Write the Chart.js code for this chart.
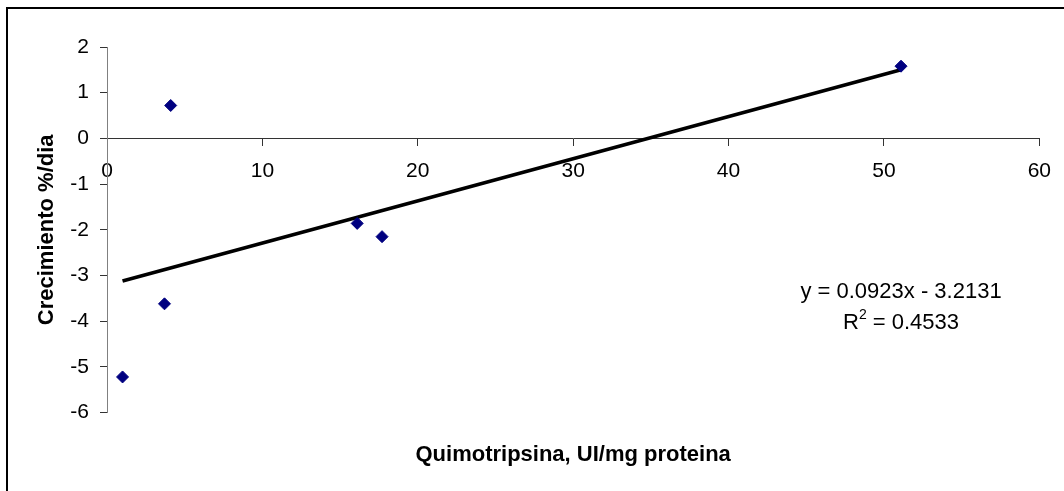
<!DOCTYPE html>
<html>
<head>
<meta charset="utf-8">
<script src="https://cdn.jsdelivr.net/npm/chart.js@4.4.0/dist/chart.umd.min.js"></script>
<style>
  html, body { margin: 0; padding: 0; background: #fff; }
  #wrap { position: relative; width: 1064px; height: 491px; overflow: hidden; }
  #frame { position: absolute; left: 6px; top: 7px; width: 1200px; height: 600px;
           border-left: 2px solid #000; border-top: 2px solid #000; }
  #chart { position: absolute; left: 0; top: 0; }
</style>
</head>
<body>
<div id="wrap">
  <div id="frame"></div>
  <canvas id="chart" width="1064" height="491"></canvas>
</div>
<script>
// data
const quimotripsina = [1.0, 3.7, 4.1, 16.1, 17.7, 51.1];
const crecimiento = [-5.22, -3.62, 0.72, -1.86, -2.15, 1.58];
const xTicks = [0, 10, 20, 30, 40, 50, 60];
const yTicks = [-6, -5, -4, -3, -2, -1, 0, 1, 2];

// trendline as printed on the chart
const slope = 0.0923;
const intercept = -3.2131;
const rSquared = '0.4533';

const FONT = '"Liberation Sans", Arial, sans-serif';

const points = quimotripsina.map((x, i) => ({ x: x, y: crecimiento[i] }));
const xMin = Math.min(...quimotripsina);
const xMax = Math.max(...quimotripsina);
const trend = [
  { x: xMin, y: slope * xMin + intercept },
  { x: xMax, y: slope * xMax + intercept }
];

// draws the equation and R^2 next to the trendline
const equationLabel = {
  id: 'equationLabel',
  afterDatasetsDraw(chart) {
    const { ctx, scales } = chart;
    const cx = scales.x.getPixelForValue(51.1);
    const y1 = scales.y.getPixelForValue(-3.36);
    const y2 = scales.y.getPixelForValue(-4.04);
    ctx.save();
    ctx.fillStyle = '#000';
    ctx.textBaseline = 'middle';
    ctx.font = '22px ' + FONT;
    ctx.textAlign = 'center';
    const sign = intercept < 0 ? ' - ' : ' + ';
    ctx.fillText('y = ' + slope + 'x' + sign + Math.abs(intercept), cx, y1);

    // R² line with a superscript
    ctx.textAlign = 'left';
    const big = '22px ' + FONT, small = '14px ' + FONT;
    ctx.font = big;
    const wR = ctx.measureText('R').width;
    const rest = ' = ' + rSquared;
    const wRest = ctx.measureText(rest).width;
    ctx.font = small;
    const w2 = ctx.measureText('2').width;
    let x = cx - (wR + w2 + wRest) / 2;
    ctx.font = big;
    ctx.fillText('R', x, y2);
    ctx.font = small;
    ctx.fillText('2', x + wR, y2 - 8);
    ctx.font = big;
    ctx.fillText(rest, x + wR + w2, y2);
    ctx.restore();
  }
};

new Chart(document.getElementById('chart'), {
  type: 'scatter',
  data: {
    datasets: [
      {
        label: 'Tendencia',
        type: 'line',
        data: trend,
        borderColor: '#000',
        borderWidth: 3.5,
        pointRadius: 0,
        fill: false,
        order: 2
      },
      {
        label: 'Crecimiento',
        data: points,
        pointStyle: 'rectRot',
        pointRadius: 6,
        pointBorderWidth: 1,
        backgroundColor: '#000080',
        borderColor: '#000080',
        order: 1
      }
    ]
  },
  options: {
    responsive: false,
    animation: false,
    layout: { padding: { left: 10, top: 47, right: 23, bottom: 0 } },
    plugins: {
      legend: { display: false },
      tooltip: { enabled: false },
      title: {
        display: true,
        position: 'bottom',
        fullSize: false,
        text: 'Quimotripsina, UI/mg proteina',
        color: '#000',
        font: { family: FONT, size: 22, weight: 'bold' },
        padding: { top: 29, bottom: 23 }
      }
    },
    scales: {
      x: {
        type: 'linear',
        position: { y: 0 },
        min: xTicks[0],
        max: xTicks[xTicks.length - 1],
        afterBuildTicks: (s) => { s.ticks = xTicks.map(v => ({ value: v })); },
        grid: { drawOnChartArea: false, tickLength: 7, tickColor: '#333' },
        border: { color: '#333', width: 1 },
        ticks: { color: '#000', padding: 13, maxRotation: 0,
                 font: { family: FONT, size: 21 } }
      },
      y: {
        type: 'linear',
        min: yTicks[0],
        max: yTicks[yTicks.length - 1],
        afterBuildTicks: (s) => { s.ticks = yTicks.map(v => ({ value: v })); },
        afterFit: (s) => { s.width = 97; },
        grid: { drawOnChartArea: false, tickLength: 7, tickColor: '#333' },
        border: { color: '#808080', width: 1 },
        ticks: { color: '#000', padding: 11,
                 font: { family: FONT, size: 21 } },
        title: {
          display: true,
          text: 'Crecimiento %/dia',
          color: '#000',
          font: { family: FONT, size: 22, weight: 'bold' },
          padding: { top: 24, bottom: 0 }
        }
      }
    }
  },
  plugins: [equationLabel]
});
</script>
</body>
</html>
